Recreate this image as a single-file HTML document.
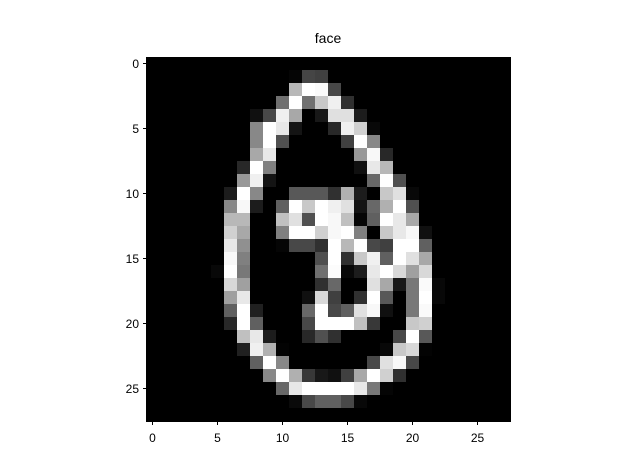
<!DOCTYPE html>
<html><head><meta charset="utf-8">
<style>
body{margin:0;background:#fff;}
svg{display:block;font-family:"Liberation Sans","DejaVu Sans",sans-serif;}
</style></head>
<body>
<svg id="chart" width="640" height="473" viewBox="0 0 640 473" xmlns="http://www.w3.org/2000/svg">
<rect width="640" height="473" fill="#fff"/>
<text x="328" y="43" font-size="14" text-anchor="middle">face</text>
<g id="cells" shape-rendering="crispEdges"></g>
<rect x="146.5" y="57.5" width="364" height="364" fill="none" stroke="#000" stroke-width="1"/>
<g id="xt"></g>
<g id="yt"></g>
</svg>
<script>
// sparse rows: [startCol, values...]
const imageRows = [
[0],
[11,5,69,64],
[11,184,255,250,72],
[10,112,255,112,200,240,48],
[8,16,72,240,168,0,24,224,224,28],
[8,136,255,232,20,0,0,40,240,208,8],
[8,136,255,80,0,0,0,0,64,255,136],
[8,168,232,0,0,0,0,0,0,152,248,40],
[7,40,255,128,0,0,0,0,0,0,16,232,184],
[7,152,240,20,0,0,0,0,0,0,0,104,255,80],
[6,28,255,136,0,0,88,88,88,48,176,28,0,200,224,8],
[6,136,248,28,0,96,255,200,255,240,224,20,104,176,255,80],
[6,184,184,0,0,192,224,80,255,248,192,5,96,255,232,168],
[6,208,168,0,0,128,255,255,208,248,255,128,0,200,232,248,16],
[6,232,144,0,0,5,72,72,48,255,184,255,72,64,255,255,96],
[6,248,128,0,0,0,0,0,80,255,48,200,240,96,255,224,168],
[5,8,255,120,0,0,0,0,0,112,252,8,28,232,255,216,160,216],
[6,216,160,0,0,0,0,0,48,104,0,0,224,168,24,120,250,8],
[6,160,232,0,0,0,0,16,216,64,0,48,255,88,0,120,255,8],
[6,96,255,32,0,0,0,104,255,72,96,224,248,16,0,120,250],
[6,40,255,96,0,0,0,72,255,255,255,192,56,0,0,200,208],
[7,192,232,28,0,0,40,80,48,0,0,0,0,72,255,88],
[7,32,240,176,3,0,0,0,0,0,0,0,8,200,216,3],
[8,96,255,136,0,0,0,0,0,0,72,224,248,72],
[9,136,255,176,56,24,16,64,168,255,208,48],
[10,104,232,255,255,255,255,232,120,5],
[11,10,72,96,96,72,8],
[0]
];
const xTickLabels = [0,5,10,15,20,25];
const yTickLabels = [0,5,10,15,20,25];
const NS="http://www.w3.org/2000/svg";
const X0=146, Y0=57, CELL=13;
const xPos=c=>X0+c*CELL, yPos=r=>Y0+r*CELL;
const g=document.getElementById('cells');
for(let r=0;r<28;r++){
  const row=new Array(28).fill(0);
  const start=imageRows[r][0];
  for(let i=1;i<imageRows[r].length;i++) row[start+i-1]=imageRows[r][i];
  for(let c=0;c<28;c++){
    const v=row[c];
    const rect=document.createElementNS(NS,'rect');
    
    
    rect.setAttribute('x',xPos(c));rect.setAttribute('y',yPos(r));
    rect.setAttribute('width',CELL);rect.setAttribute('height',CELL);
    rect.setAttribute('fill',`rgb(${v},${v},${v})`);
    g.appendChild(rect);
  }
}
const xt=document.getElementById('xt'), yt=document.getElementById('yt');
xTickLabels.forEach(t=>{
  const x=xPos(t)+CELL/2;
  const l=document.createElementNS(NS,'line');
  
  
  l.setAttribute('x1',x);l.setAttribute('x2',x);l.setAttribute('y1',421.5);l.setAttribute('y2',425);l.setAttribute('stroke','#000');
  xt.appendChild(l);
  const tx=document.createElementNS(NS,'text');
  
  
  tx.setAttribute('x',x);tx.setAttribute('y',442);tx.setAttribute('font-size','12');tx.setAttribute('text-anchor','middle');
  tx.textContent=t;xt.appendChild(tx);
});
yTickLabels.forEach(t=>{
  const y=yPos(t)+CELL/2;
  const l=document.createElementNS(NS,'line');
  
  
  l.setAttribute('x1',143);l.setAttribute('x2',146.5);l.setAttribute('y1',y);l.setAttribute('y2',y);l.setAttribute('stroke','#000');
  yt.appendChild(l);
  const tx=document.createElementNS(NS,'text');
  
  
  tx.setAttribute('x',139);tx.setAttribute('y',y+4.5);tx.setAttribute('font-size','12');tx.setAttribute('text-anchor','end');
  tx.textContent=t;yt.appendChild(tx);
});
</script>
</body></html>
